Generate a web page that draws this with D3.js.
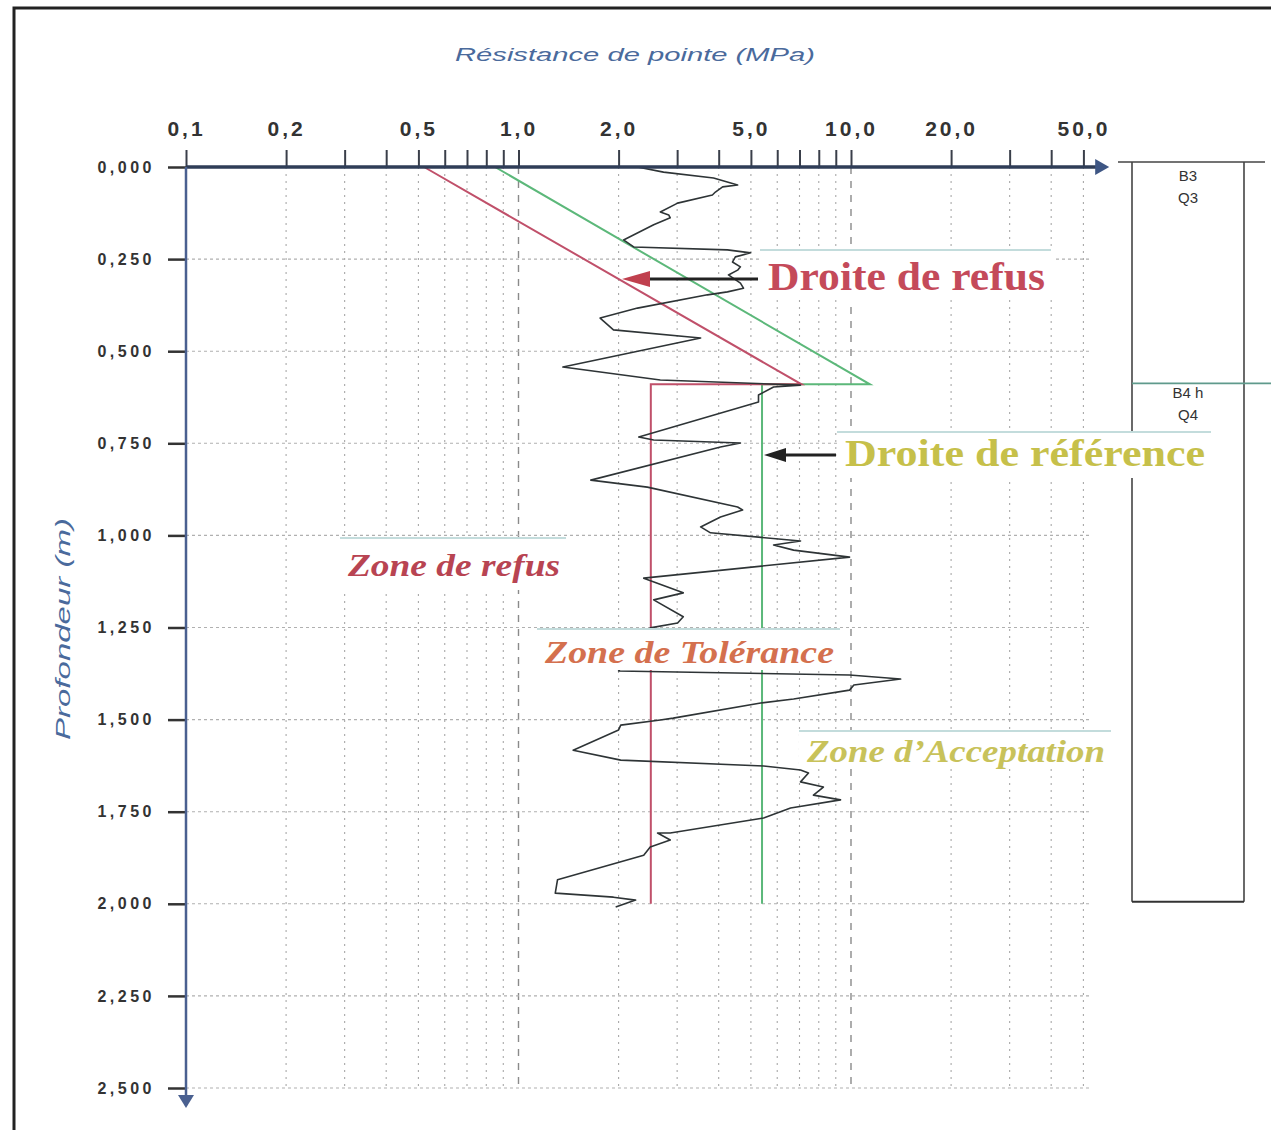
<!DOCTYPE html>
<html>
<head>
<meta charset="utf-8">
<script src="https://cdn.jsdelivr.net/npm/d3@7"></script>
<style>
  body { margin: 0; background: #fff; }
  svg { display: block; }
</style>
</head>
<body>
<svg width="1271" height="1130"></svg>
<script>
// profondeur (m) et resistance de pointe (MPa)
var depth = [0, 0.014, 0.030, 0.049, 0.054, 0.068, 0.076, 0.098, 0.122, 0.130, 0.138, 0.157,
  0.198, 0.217, 0.225, 0.233, 0.244, 0.258, 0.271, 0.280, 0.293, 0.315, 0.329, 0.339, 0.347,
  0.383, 0.410, 0.442, 0.464, 0.543, 0.578, 0.592, 0.597, 0.619, 0.638, 0.733, 0.741, 0.749,
  0.760, 0.850, 0.869, 0.923, 0.931, 0.950, 0.977, 0.993, 1.015, 1.026, 1.040, 1.059, 1.116,
  1.156, 1.175, 1.221, 1.238, 1.251, 1.368, 1.379, 1.390, 1.406, 1.420, 1.444, 1.455, 1.496,
  1.501, 1.515, 1.528, 1.583, 1.610, 1.626, 1.637, 1.645, 1.669, 1.683, 1.705, 1.718, 1.740,
  1.767, 1.808, 1.808, 1.827, 1.846, 1.868, 1.935, 1.971, 1.982, 1.990, 2.009];
var qc = [2.28, 2.73, 3.86, 4.56, 4.11, 3.91, 3.83, 3.01, 2.67, 2.83, 2.86, 2.55,
  2.07, 2.22, 4.25, 4.99, 4.49, 4.40, 4.65, 4.56, 4.28, 4.65, 4.75, 4.25, 3.70,
  2.28, 1.76, 1.93, 3.53, 1.36, 2.67, 7.05, 5.85, 5.27, 5.27, 2.30, 2.55, 4.65,
  4.05, 1.65, 2.44, 4.56, 4.72, 4.05, 3.53, 3.78, 7.05, 5.85, 6.72, 9.9, 2.38,
  3.13, 2.55, 3.13, 3.01, 2.49, 2.00, 9.9, 14.1, 10.2, 9.9, 6.72, 5.35, 2.92,
  2.67, 2.03, 2.00, 1.46, 2.03, 5.46, 7.05, 7.45, 7.05, 8.26, 7.71, 9.30, 6.58,
  5.46, 2.86, 2.62, 2.86, 2.49, 2.38, 1.31, 1.29, 1.93, 2.25, 1.96];

// droite de refus et droite de reference
var refusDepth = [0, 0.59, 0.59, 2.0];
var refusQc = [0.52, 7.1, 2.5, 2.5];
var refDepth = [0, 0.59, 0.59, 2.0];
var refQc = [0.85, 11.4, 5.4, 5.4];

// axes
var xMajor = [0.1, 0.2, 0.5, 1, 2, 5, 10, 20, 50];
var xMajorLabels = ["0,1", "0,2", "0,5", "1,0", "2,0", "5,0", "10,0", "20,0", "50,0"];
var xMinor = [0.3, 0.4, 0.6, 0.7, 0.8, 0.9, 3, 4, 6, 7, 8, 9, 30, 40];
var xAxisEnd = 55;
var yTicks = [0, 0.25, 0.5, 0.75, 1, 1.25, 1.5, 1.75, 2, 2.25, 2.5];

// couches
var layerNames = [["B3", "Q3"], ["B4 h", "Q4"]];
var layerTops = [0, 0.59];
var layerBottoms = [0.59, 2.0];

var svg = d3.select("svg");
var x = d3.scaleLog().domain([0.1, 10]).range([186, 851]);
var y = d3.scaleLinear().domain([0, 2.5]).range([167, 1088]);
var allX = xMajor.concat(xMinor).sort(d3.ascending);

svg.append("rect").attr("width", 1271).attr("height", 1130).attr("fill", "#fff");

// cadre
svg.append("path").attr("d", "M14,1130 V8 H1271")
  .attr("fill", "none").attr("stroke", "#222").attr("stroke-width", 3);

// grille
svg.append("g").selectAll("line").data(allX.filter(function(d) { return d > 0.1; }))
  .enter().append("line")
    .attr("x1", function(d) { return x(d); }).attr("x2", function(d) { return x(d); })
    .attr("y1", y(0)).attr("y2", y(2.5))
    .attr("stroke", function(d) { return (d === 1 || d === 10) ? "#8a8a8a" : "#a8a8a8"; })
    .attr("stroke-width", function(d) { return (d === 1 || d === 10) ? 1.4 : 1.1; })
    .attr("stroke-dasharray", function(d) { return (d === 1 || d === 10) ? "7,7" : "2,5"; });

svg.append("g").selectAll("line").data(yTicks.slice(1))
  .enter().append("line")
    .attr("x1", x(0.1)).attr("x2", 1090)
    .attr("y1", function(d) { return y(d); }).attr("y2", function(d) { return y(d); })
    .attr("stroke", "#b0b0b0").attr("stroke-width", 1.1).attr("stroke-dasharray", "3,3");

// colonne des couches
var layers = svg.append("g");
layers.append("line").attr("x1", 1118).attr("x2", 1265).attr("y1", y(0) - 5).attr("y2", y(0) - 5)
  .attr("stroke", "#444").attr("stroke-width", 1.6);
layers.append("line").attr("x1", 1132).attr("x2", 1132).attr("y1", y(0) - 5).attr("y2", y(layerBottoms[1]) - 2)
  .attr("stroke", "#444").attr("stroke-width", 1.6);
layers.append("line").attr("x1", 1244).attr("x2", 1244).attr("y1", y(0) - 5).attr("y2", y(layerBottoms[1]) - 2)
  .attr("stroke", "#444").attr("stroke-width", 1.6);
layers.append("line").attr("x1", 1132).attr("x2", 1244).attr("y1", y(layerBottoms[1]) - 2).attr("y2", y(layerBottoms[1]) - 2)
  .attr("stroke", "#333").attr("stroke-width", 2);
layers.append("line").attr("x1", 1132).attr("x2", 1271).attr("y1", y(layerBottoms[0]) - 1).attr("y2", y(layerBottoms[0]) - 1)
  .attr("stroke", "#5f9a8c").attr("stroke-width", 1.6);
layerNames.forEach(function(names, i) {
  names.forEach(function(n, j) {
    layers.append("text")
      .attr("x", 1188).attr("y", y(layerTops[i]) + 14 + j * 22)
      .attr("text-anchor", "middle")
      .attr("font-family", "Liberation Sans, Arial, sans-serif")
      .attr("font-size", 15).attr("fill", "#333")
      .text(n);
  });
});

// droites
var line = d3.line().x(function(d) { return x(d[0]); }).y(function(d) { return y(d[1]); });
svg.append("path").datum(d3.zip(refQc, refDepth))
  .attr("d", line).attr("fill", "none").attr("stroke", "#5cb87a").attr("stroke-width", 2);
svg.append("path").datum(d3.zip(refusQc, refusDepth))
  .attr("d", line).attr("fill", "none").attr("stroke", "#c0506a").attr("stroke-width", 2);

// courbe penetrometrique
svg.append("path").datum(d3.zip(qc, depth))
  .attr("d", line).attr("fill", "none").attr("stroke", "#2e3436")
  .attr("stroke-width", 1.6).attr("stroke-linejoin", "round");

// etiquettes (collees avec fond blanc)
function label(txt, x0, x1, top, bottom, baseline, color, size, italic) {
  var g = svg.append("g");
  g.append("rect").attr("x", x0 - 8).attr("y", top).attr("width", x1 - x0 + 16).attr("height", bottom - top)
    .attr("fill", "#fff");
  g.append("line").attr("x1", x0 - 8).attr("x2", x1 + 6).attr("y1", top).attr("y2", top)
    .attr("stroke", "#c3dcdc").attr("stroke-width", 2);
  g.append("text").attr("x", x0).attr("y", baseline)
    .attr("font-family", "Liberation Serif, DejaVu Serif, serif")
    .attr("font-weight", "bold")
    .attr("font-style", italic ? "italic" : "normal")
    .attr("font-size", size).attr("fill", color)
    .attr("textLength", x1 - x0).attr("lengthAdjust", "spacingAndGlyphs")
    .text(txt);
}
label("Droite de refus", 768, 1045, 250, 300, 290, "#c44a5a", 39, false);
label("Droite de référence", 845, 1205, 432, 478, 466, "#c6c04a", 37, false);
label("Zone de refus", 348, 560, 538, 590, 576, "#b84452", 32, true);
label("Zone de Tolérance", 545, 834, 629, 670, 663, "#d4704e", 32, true);
label("Zone d\u2019Acceptation", 807, 1105, 731, 767, 762, "#c8c25a", 32, true);

// fleches
svg.append("line").attr("x1", 645).attr("x2", 758).attr("y1", 279).attr("y2", 279)
  .attr("stroke", "#222").attr("stroke-width", 3);
svg.append("path").attr("d", "M622,279 L650,271 L650,287 Z").attr("fill", "#c0404e");
svg.append("line").attr("x1", 780).attr("x2", 836).attr("y1", 455).attr("y2", 455)
  .attr("stroke", "#222").attr("stroke-width", 3);
svg.append("path").attr("d", "M764,455 L786,448 L786,462 Z").attr("fill", "#222");

// axe des x (haut)
var xAxis = d3.axisTop(x)
  .tickValues(allX)
  .tickSize(17)
  .tickPadding(14)
  .tickFormat(function(d) { var i = xMajor.indexOf(d); return i >= 0 ? xMajorLabels[i] : ""; });
var gx = svg.append("g").attr("transform", "translate(0," + y(0) + ")").call(xAxis);
gx.select(".domain").remove();
gx.selectAll(".tick line").attr("stroke", "#3a3f4a").attr("stroke-width", 2);
gx.selectAll(".tick text")
  .attr("font-family", "Liberation Sans, Arial, sans-serif")
  .attr("font-size", 21).attr("font-weight", "bold")
  .attr("letter-spacing", 3).attr("fill", "#333");
svg.append("line").attr("x1", x(0.1)).attr("x2", x(xAxisEnd)).attr("y1", y(0)).attr("y2", y(0))
  .attr("stroke", "#2f3d57").attr("stroke-width", 3.5);
svg.append("path")
  .attr("d", "M" + (x(xAxisEnd) + 12) + "," + y(0) + " l-14,-8 v16 Z")
  .attr("fill", "#3e5684");

// axe des y
var yAxis = d3.axisLeft(y)
  .tickValues(yTicks)
  .tickSize(18)
  .tickPadding(13)
  .tickFormat(function(d) { return d3.format(".3f")(d).replace(".", ","); });
var gy = svg.append("g").attr("transform", "translate(" + x(0.1) + ",0)").call(yAxis);
gy.select(".domain").remove();
gy.selectAll(".tick line").attr("stroke", "#333").attr("stroke-width", 2.5);
gy.selectAll(".tick text")
  .attr("font-family", "Liberation Sans, Arial, sans-serif")
  .attr("font-size", 16).attr("font-weight", "bold")
  .attr("letter-spacing", 3.5).attr("fill", "#333");
svg.append("line").attr("x1", x(0.1)).attr("x2", x(0.1)).attr("y1", y(0)).attr("y2", 1098)
  .attr("stroke", "#4a6090").attr("stroke-width", 2.5);
svg.append("path")
  .attr("d", "M" + x(0.1) + ",1108 l-8,-13 h16 Z")
  .attr("fill", "#4a6090");

// titres
svg.append("text").attr("x", 455).attr("y", 61)
  .attr("font-family", "Liberation Sans, Arial, sans-serif")
  .attr("font-style", "italic").attr("font-size", 18).attr("fill", "#4a6a9c")
  .attr("textLength", 360).attr("lengthAdjust", "spacingAndGlyphs")
  .text("Résistance de pointe (MPa)");
svg.append("text")
  .attr("transform", "translate(70,740) rotate(-90)")
  .attr("font-family", "Liberation Sans, Arial, sans-serif")
  .attr("font-style", "italic").attr("font-size", 20).attr("fill", "#4a6a9c")
  .attr("textLength", 222).attr("lengthAdjust", "spacingAndGlyphs")
  .text("Profondeur (m)");
</script>
</body>
</html>
